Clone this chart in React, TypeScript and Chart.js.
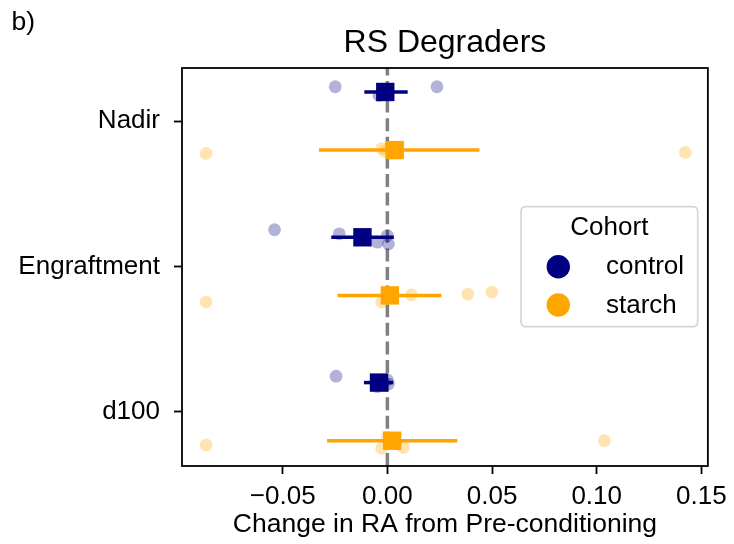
import React, { useEffect, useRef } from 'react';
import { Chart, registerables } from 'chart.js';

Chart.register(...registerables);

// ---- data ----
const categories = ['Nadir', 'Engraftment', 'd100'];
const cohorts = ['control', 'starch'];
const xTickValues = [-0.05, 0, 0.05, 0.1, 0.15];

// individual observations (x) and their vertical jitter (in category units), per category
const controlPointsX = [
  [-0.0249, 0.0237, -0.004, 0.0],
  [-0.0539, -0.023, -0.0048, 0.0, 0.0005],
  [-0.0245, 0.0, -0.0048, 0.0005],
];
const controlJitter = [
  [-0.036, -0.036, 0.024, 0.02],
  [-0.052, -0.024, 0.034, -0.012, 0.046],
  [-0.044, -0.018, 0.028, 0.01],
];
const starchPointsX = [
  [-0.0866, 0.1423, -0.0027, -0.001],
  [-0.0866, -0.0027, 0.0115, 0.0384, 0.0499],
  [-0.0866, -0.0027, 0.0076, 0.1037, 0.0],
];
const starchJitter = [
  [0.023, 0.016, -0.01, 0.007],
  [0.046, 0.046, -0.004, -0.009, -0.023],
  [0.029, 0.052, 0.047, 0.0, -0.027],
];

// means and confidence intervals
const controlMean = [-0.001, -0.0119, -0.004];
const controlLow = [-0.011, -0.0268, -0.0112];
const controlHigh = [0.0097, 0.0031, 0.0028];
const starchMean = [0.0035, 0.0012, 0.0023];
const starchLow = [-0.0327, -0.0238, -0.0288];
const starchHigh = [0.044, 0.0258, 0.0334];

const dodge = 0.2;
const xMin = -0.0981;
const xMax = 0.1531;
const yMin = -0.365;
const yMax = 2.374;

const FONT = '"Liberation Sans", Arial, Helvetica, sans-serif';
const CONTROL = '#000080';
const STARCH = '#ffa500';
const CONTROL_LIGHT = 'rgba(0,0,128,0.3)';
const STARCH_LIGHT = 'rgba(255,165,0,0.3)';

function fmtTick(v: number) {
  const s = Math.abs(v).toFixed(2);
  return v < -1e-9 ? '\u2212' + s : s;
}

export default function App() {
  const ref = useRef<HTMLCanvasElement | null>(null);

  useEffect(() => {
    if (!ref.current) return;

    const datasets: any[] = [];

    // zero reference line
    datasets.push({
      type: 'scatter',
      showLine: true,
      data: [
        { x: 0, y: yMax },
        { x: 0, y: yMin },
      ],
      borderColor: '#808080',
      borderWidth: 3.5,
      borderDash: [13, 5.6],
      pointRadius: 0,
      order: 10,
    });

    const groups = [
      { px: controlPointsX, jit: controlJitter, mean: controlMean, lo: controlLow, hi: controlHigh, off: -dodge, c: CONTROL, light: CONTROL_LIGHT },
      { px: starchPointsX, jit: starchJitter, mean: starchMean, lo: starchLow, hi: starchHigh, off: dodge, c: STARCH, light: STARCH_LIGHT },
    ];

    groups.forEach((g) => {
      const pts: { x: number; y: number }[] = [];
      g.px.forEach((arr, ci) => {
        arr.forEach((x, j) => pts.push({ x, y: ci + g.off + g.jit[ci][j] }));
      });
      datasets.push({
        type: 'scatter',
        data: pts,
        pointRadius: 6.4,
        pointBackgroundColor: g.light,
        pointBorderWidth: 0,
        pointHoverRadius: 6.4,
        order: 5,
      });
      g.mean.forEach((_m, ci) => {
        datasets.push({
          type: 'scatter',
          showLine: true,
          data: [
            { x: g.lo[ci], y: ci + g.off },
            { x: g.hi[ci], y: ci + g.off },
          ],
          borderColor: g.c,
          borderWidth: 3.5,
          pointRadius: 0,
          order: 2,
        });
      });
      datasets.push({
        type: 'scatter',
        data: g.mean.map((m, ci) => ({ x: m, y: ci + g.off })),
        pointStyle: 'rect',
        pointRadius: 13,
        pointHoverRadius: 13,
        pointBackgroundColor: g.c,
        pointBorderWidth: 0,
        order: 1,
      });
    });

    const framePlugin = {
      id: 'frame',
      afterDatasetsDraw(chart: any) {
        const { ctx, chartArea: a } = chart;
        ctx.save();
        ctx.strokeStyle = '#000';
        ctx.lineWidth = 1.8;
        ctx.strokeRect(a.left, a.top, a.right - a.left, a.bottom - a.top);
        ctx.restore();
      },
    };

    const textPlugin = {
      id: 'texts',
      afterDraw(chart: any) {
        const { ctx, chartArea: a } = chart;
        ctx.save();
        ctx.fillStyle = '#000';
        ctx.textBaseline = 'alphabetic';
        ctx.font = `32px ${FONT}`;
        ctx.textAlign = 'center';
        ctx.fillText('RS Degraders', (a.left + a.right) / 2, 52);
        ctx.font = `26.5px ${FONT}`;
        ctx.textAlign = 'left';
        ctx.fillText('b)', 11.5, 29.5);

        // legend
        const bx = 521, by = 206.7, bw = 176.7, bh = 120, r = 5;
        ctx.beginPath();
        ctx.moveTo(bx + r, by);
        ctx.lineTo(bx + bw - r, by);
        ctx.quadraticCurveTo(bx + bw, by, bx + bw, by + r);
        ctx.lineTo(bx + bw, by + bh - r);
        ctx.quadraticCurveTo(bx + bw, by + bh, bx + bw - r, by + bh);
        ctx.lineTo(bx + r, by + bh);
        ctx.quadraticCurveTo(bx, by + bh, bx, by + bh - r);
        ctx.lineTo(bx, by + r);
        ctx.quadraticCurveTo(bx, by, bx + r, by);
        ctx.closePath();
        ctx.fillStyle = 'rgba(255,255,255,0.8)';
        ctx.fill();
        ctx.strokeStyle = '#d6d6d6';
        ctx.lineWidth = 1.7;
        ctx.stroke();

        ctx.fillStyle = '#000';
        ctx.textAlign = 'center';
        ctx.textBaseline = 'middle';
        ctx.font = `26px ${FONT}`;
        ctx.fillText('Cohort', bx + bw / 2, 228);
        const colors = [CONTROL, STARCH];
        const ys = [266.7, 305];
        cohorts.forEach((name, i) => {
          ctx.beginPath();
          ctx.arc(558.3, ys[i], 11.7, 0, Math.PI * 2);
          ctx.fillStyle = colors[i];
          ctx.fill();
          ctx.fillStyle = '#000';
          ctx.textAlign = 'left';
          ctx.fillText(name, 606, ys[i] + 0.5);
        });
        ctx.restore();
      },
    };

    const chart = new Chart(ref.current, {
      type: 'scatter',
      data: { datasets },
      options: {
        animation: false,
        responsive: false,
        events: [],
        layout: { padding: { top: 68, right: 25, left: 0, bottom: 0 } },
        plugins: { legend: { display: false }, title: { display: false }, tooltip: { enabled: false } },
        scales: {
          x: {
            type: 'linear',
            min: xMin,
            max: xMax,
            afterBuildTicks: (scale: any) => {
              scale.ticks = xTickValues.map((v) => ({ value: v }));
            },
            afterFit: (scale: any) => {
              scale.height = 78;
            },
            border: { display: false },
            grid: {
              display: true,
              drawOnChartArea: false,
              drawTicks: true,
              tickLength: 8,
              tickWidth: 1.8,
              tickColor: '#000',
            },
            ticks: {
              autoSkip: false,
              maxRotation: 0,
              padding: 7,
              color: '#000',
              font: { family: FONT, size: 26 },
              callback: (v: any) => fmtTick(Number(v)),
            },
            title: {
              display: true,
              text: 'Change in RA from Pre-conditioning',
              color: '#000',
              font: { family: FONT, size: 26.5 },
              padding: { top: 0, bottom: 3 },
            },
          },
          y: {
            type: 'linear',
            reverse: true,
            min: yMin,
            max: yMax,
            afterBuildTicks: (scale: any) => {
              scale.ticks = categories.map((_c, i) => ({ value: i }));
            },
            afterFit: (scale: any) => {
              scale.width = 182;
            },
            border: { display: false },
            grid: {
              display: true,
              drawOnChartArea: false,
              drawTicks: true,
              tickLength: 8,
              tickWidth: 1.8,
              tickColor: '#000',
            },
            ticks: {
              autoSkip: false,
              padding: 14,
              color: '#000',
              font: { family: FONT, size: 26 },
              callback: (v: any) => categories[Math.round(Number(v))] ?? '',
            },
          },
        },
      },
      plugins: [framePlugin, textPlugin],
    } as any);

    return () => chart.destroy();
  }, []);

  return (
    <div style={{ position: 'absolute', left: 0, top: 0, width: 734, height: 544, background: '#fff' }}>
      <canvas ref={ref} width={734} height={544} style={{ display: 'block', width: 734, height: 544 }} />
    </div>
  );
}
